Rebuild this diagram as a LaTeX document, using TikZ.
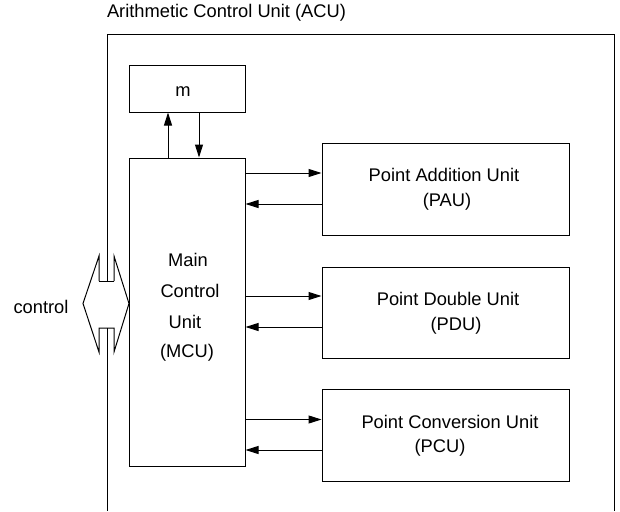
\documentclass[tikz,border=0pt]{standalone}
\usepackage{fontspec}
\setmainfont{Liberation Sans}
\usetikzlibrary{arrows.meta}
\begin{document}
\begin{tikzpicture}[x=1pt,y=-1pt,
  box/.style={draw, line width=1pt, inner sep=0pt},
  txt/.style={font=\fontsize{18.3}{22}\selectfont, inner sep=0pt},
  arr/.style={line width=1pt, -{Triangle[length=13pt,width=8pt]}},
  frame/.style={line width=1pt}]
\useasboundingbox (0,0) rectangle (620,511);
% title
\node[txt] (title) at (226.5,13) {Arithmetic Control Unit (ACU)};
% outer frame (open at bottom, broken on the left by the control arrow)
\coordinate (fl1) at (107,281);
\coordinate (fl2) at (107,328);
\draw[frame] (fl1) -- (107,35) -- (614,35) -- (614,511);
\draw[frame] (fl2) -- (107,511);
% control double arrow
\draw[frame, line join=miter] (99,281) -- (114,281);
\draw[frame, line join=miter] (99,281) -- (99,256) -- (83,303.5) -- (99,352) -- (99,328) -- (114,328) -- (114,352) -- (129,303.5) -- (114,256) -- (114,281);
\node[txt] (control) at (41,307) {control};
% boxes
\node[box, minimum width=116pt, minimum height=47pt] (m) at (187,88.5) {};
\node[txt] (mtext) at (183,92) {m};
\node[box, minimum width=116pt, minimum height=308pt] (mcu) at (187,312) {};
\node[txt] (mcu1) at (188,260) {Main};
\node[txt] (mcu2) at (190,291) {Control};
\node[txt] (mcu3) at (185,322) {Unit};
\node[txt] (mcu4) at (187,353) {(MCU)};
\node[box, minimum width=247pt, minimum height=92pt] (pau) at (445.5,189) {};
\node[txt] (pau1) at (444,175) {Point Addition Unit};
\node[txt] (pau2) at (447,201.5) {(PAU)};
\node[box, minimum width=247pt, minimum height=91pt] (pdu) at (445.5,312.5) {};
\node[txt] (pdu1) at (448,299) {Point Double Unit};
\node[txt] (pdu2) at (456,325.5) {(PDU)};
\node[box, minimum width=247pt, minimum height=92pt] (pcu) at (445.5,435) {};
\node[txt] (pcu1) at (450,422) {Point Conversion Unit};
\node[txt] (pcu2) at (440,448) {(PCU)};
% m <-> mcu
\draw[arr] (mcu.north -| 168,0) -- (m.south -| 168,0);
\draw[arr] (m.south -| 199,0) -- (mcu.north -| 199,0);
% mcu <-> units
\draw[arr] (mcu.east |- 0,173) -- (pau.west |- 0,173);
\draw[arr] (pau.west |- 0,204) -- (mcu.east |- 0,204);
\draw[arr] (mcu.east |- 0,296) -- (pdu.west |- 0,296);
\draw[arr] (pdu.west |- 0,327) -- (mcu.east |- 0,327);
\draw[arr] (mcu.east |- 0,419.5) -- (pcu.west |- 0,419.5);
\draw[arr] (pcu.west |- 0,450) -- (mcu.east |- 0,450);
\end{tikzpicture}
\end{document}
